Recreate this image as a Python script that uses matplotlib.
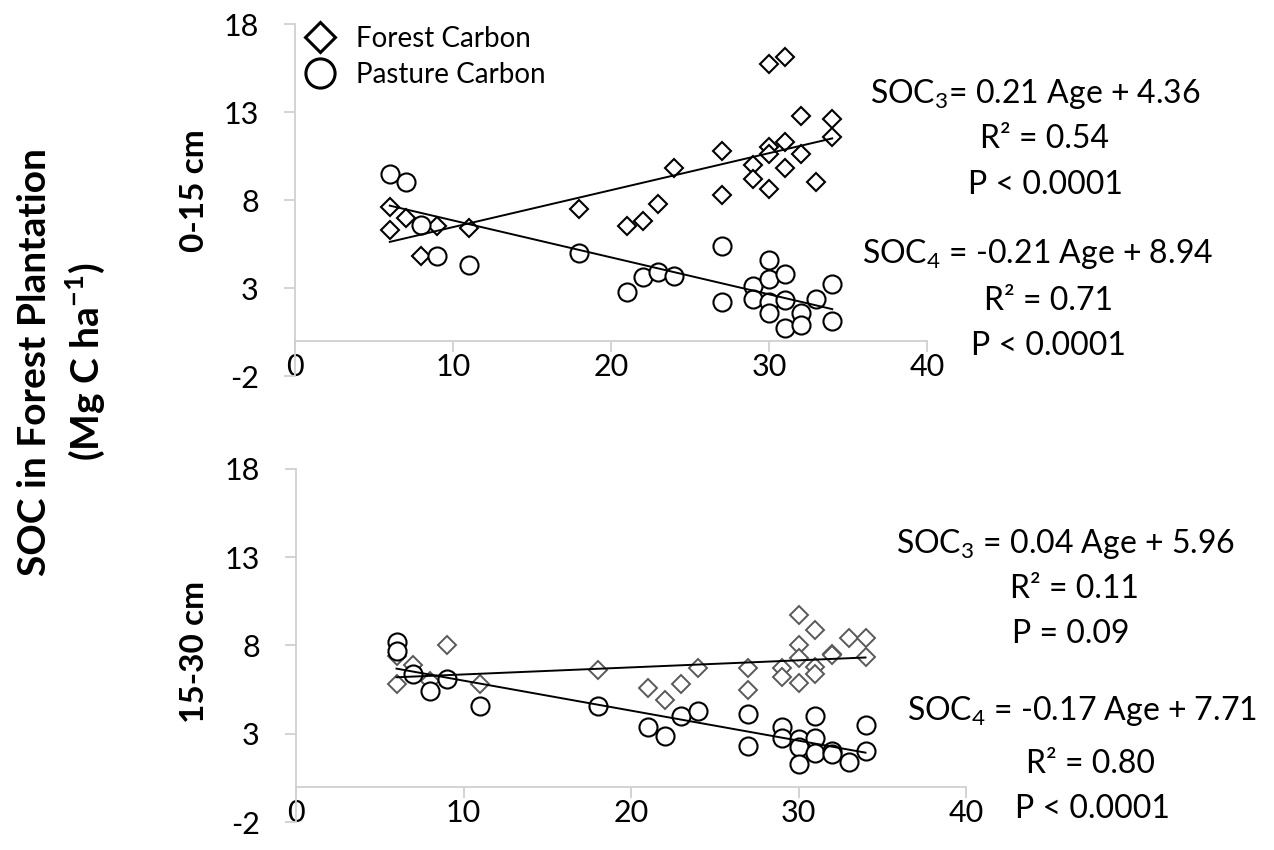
import matplotlib
matplotlib.use('Agg')
import matplotlib.pyplot as plt
from matplotlib.lines import Line2D
import numpy as np

plt.rcParams['font.family'] = ['Lato', 'DejaVu Sans']
plt.rcParams['axes.unicode_minus'] = False

# Top panel (0-15 cm)
age_forest_top = [6, 6, 7, 8, 9, 11, 18, 21, 22, 23, 24, 27, 27, 29, 29, 30, 30, 30, 30,
                  31, 31, 31, 32, 32, 33, 34, 34]
soc_forest_top = [7.6, 6.3, 7.0, 4.8, 6.5, 6.4, 7.5, 6.5, 6.8, 7.8, 9.8, 10.8, 8.3, 10.0, 9.2,
                  15.7, 11.0, 10.6, 8.6, 16.1, 11.3, 9.8, 12.8, 10.6, 9.0, 12.6, 11.6]
age_pasture_top = [6, 7, 8, 9, 11, 18, 21, 22, 23, 24, 27, 27, 29, 29, 30, 30, 30, 30,
                   31, 31, 31, 32, 32, 33, 34, 34]
soc_pasture_top = [9.5, 9.0, 6.6, 4.8, 4.3, 5.0, 2.8, 3.6, 3.9, 3.7, 5.4, 2.2, 3.1, 2.4,
                   4.6, 3.5, 2.2, 1.6, 3.8, 2.3, 0.7, 1.6, 0.9, 2.4, 3.2, 1.1]

# Bottom panel (15-30 cm)
age_forest_bot = [6, 6, 7, 8, 9, 11, 18, 21, 22, 23, 24, 27, 27, 29, 29, 30, 30, 30, 30,
                  31, 31, 31, 32, 32, 33, 34, 34]
soc_forest_bot = [7.4, 5.8, 6.9, 6.0, 8.0, 5.8, 6.6, 5.6, 4.9, 5.8, 6.7, 6.7, 5.5, 6.7, 6.2,
                  9.7, 8.0, 7.3, 5.9, 8.9, 6.8, 6.4, 7.5, 7.45, 8.4, 8.4, 7.35]
age_pasture_bot = [6, 6, 7, 8, 9, 11, 18, 21, 22, 23, 24, 27, 27, 29, 29, 30, 30, 30,
                   31, 31, 31, 32, 32, 33, 34, 34]
soc_pasture_bot = [8.2, 7.7, 6.4, 5.4, 6.1, 4.6, 4.6, 3.4, 2.9, 4.0, 4.3, 4.1, 2.3, 3.4, 2.75,
                   2.7, 2.25, 1.3, 4.0, 2.75, 1.9, 2.05, 1.85, 1.4, 3.5, 2.05]

# trendline coefficients (slope, intercept)
fit_forest_top = [0.21, 4.36]
fit_pasture_top = [-0.21, 8.94]
fit_forest_bot = [0.04, 5.96]
fit_pasture_bot = [-0.17, 7.71]

x_ticks = [0, 10, 20, 30, 40]
y_ticks = [-2, 3, 8, 13, 18]

W, H = 1274, 850
FS_TICK = 22
FS_LEG = 20
FS_NOTE = 23
AXIS_GREY = '#d0d0d0'

fig = plt.figure(figsize=(W / 100, H / 100), dpi=100)


def px(x0, y_top, w, h):
    return [x0 / W, 1 - (y_top + h) / H, w / W, h / H]


def style_axis(ax):
    ax.set_xlim(0, 40)
    ax.set_ylim(-2, 18)
    ax.set_xticks(x_ticks)
    ax.set_yticks(y_ticks)
    for s in ['top', 'right']:
        ax.spines[s].set_visible(False)
    ax.spines['bottom'].set_position(('data', 0))
    for s in ['bottom', 'left']:
        ax.spines[s].set_color(AXIS_GREY)
        ax.spines[s].set_linewidth(1.3)
    ax.tick_params(axis='both', direction='out', length=8, width=1.3,
                   color=AXIS_GREY, labelsize=FS_TICK, labelcolor='black')
    ax.tick_params(axis='x', pad=1)
    ax.tick_params(axis='y', pad=18)
    ax.patch.set_alpha(0)


def trend(ax, ages, fit):
    xs = np.array([min(ages), max(ages)])
    ax.plot(xs, fit[0] * xs + fit[1], color='black', lw=1.4, zorder=3)


ax1 = fig.add_axes(px(295, 24, 632, 352))
style_axis(ax1)
ax1.plot(age_forest_top, soc_forest_top, 'D', ms=9, mfc='white', mec='black', mew=1.5, zorder=2)
ax1.plot(age_pasture_top, soc_pasture_top, 'o', ms=13, mfc='white', mec='black', mew=1.5, zorder=2)
trend(ax1, age_forest_top, fit_forest_top)
trend(ax1, age_pasture_top, fit_pasture_top)

ax2 = fig.add_axes(px(296, 469, 670, 353))
style_axis(ax2)
ax2.plot(age_forest_bot, soc_forest_bot, 'D', ms=9, mfc='white', mec='#595959', mew=1.4, zorder=2)
ax2.plot(age_pasture_bot, soc_pasture_bot, 'o', ms=13, mfc='white', mec='black', mew=1.5, zorder=2)
trend(ax2, age_forest_bot, fit_forest_bot)
trend(ax2, age_pasture_bot, fit_pasture_bot)

# legend
handles = [Line2D([], [], ls='none', marker='D', ms=15, mfc='white', mec='black', mew=2.2),
           Line2D([], [], ls='none', marker='o', ms=21, mfc='white', mec='black', mew=2.2)]
fig.legend(handles, ['Forest Carbon', 'Pasture Carbon'], loc='center left',
           bbox_to_anchor=(303 / W, 1 - 57 / H), frameon=False, fontsize=FS_LEG,
           handlelength=1.2, handletextpad=0.7, borderpad=0, borderaxespad=0,
           labelspacing=0.35)

# regression annotations (centre x, baseline y in pixels)
notes = [
    (r'SOC$_{\mathregular{3}}$= 0.21 Age + 4.36', 1035, 103),
    ('R² = 0.54', 1044, 148),
    ('P < 0.0001', 1045, 194),
    (r'SOC$_{\mathregular{4}}$ = -0.21 Age + 8.94', 1038, 263),
    ('R² = 0.71', 1048, 310),
    ('P < 0.0001', 1048, 355),
    (r'SOC$_{\mathregular{3}}$ = 0.04 Age + 5.96', 1065, 553),
    ('R² = 0.11', 1074, 598),
    ('P = 0.09', 1071, 643),
    (r'SOC$_{\mathregular{4}}$ = -0.17 Age + 7.71', 1082, 720),
    ('R² = 0.80', 1091, 773),
    ('P < 0.0001', 1092, 818),
]
for txt, x, y in notes:
    fig.text(x / W, 1 - y / H, txt, ha='center', va='baseline', fontsize=FS_NOTE)

# axis titles
fig.text(195 / W, 1 - 191 / H, '0-15 cm', rotation=90, ha='center', va='center',
         fontsize=24, fontweight='bold')
fig.text(195 / W, 1 - 652 / H, '15-30 cm', rotation=90, ha='center', va='center',
         fontsize=24, fontweight='bold')
fig.text(35 / W, 1 - 362 / H, 'SOC in Forest Plantation', rotation=90, ha='center',
         va='center', fontsize=28, fontweight='bold')
fig.text(85 / W, 1 - 362 / H, r'(Mg C ha$^{\mathregular{-1}}$)', rotation=90, ha='center',
         va='center', fontsize=28, fontweight='bold')

fig.savefig('out.png', dpi=100)
